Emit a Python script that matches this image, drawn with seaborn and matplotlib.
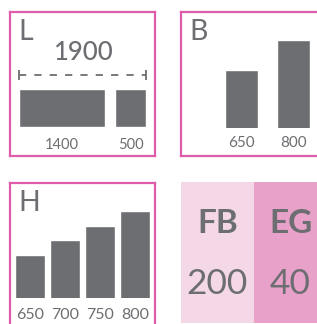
import numpy as np
import pandas as pd
import matplotlib.pyplot as plt
import seaborn as sns
from matplotlib.colors import ListedColormap

sns.set_theme(style="white")
plt.rcParams["font.family"] = ["Lato", "DejaVu Sans"]

W, H = 317, 324
GRAY = "#6d6e71"
PINK = "#de5ca9"
LIGHT = "#f5d8e8"
DARK = "#e8a1c8"

# --- data ---
l_values = [1400, 500]
l_total = 1900
l_gap = 160

b_labels = ["650", "800"]
b_values = [650, 800]

h_labels = ["650", "700", "750", "800"]
h_values = [650, 700, 750, 800]

table_heads = ["FB", "EG"]
table_values = [200, 40]


def ax_at(fig, x0, y0, x1, y1):
    # pixel box (top-left origin) -> figure axes
    return fig.add_axes([x0 / W, 1 - y1 / H, (x1 - x0) / W, (y1 - y0) / H])


def frame(fig, x0, y0, x1, y1, letter):
    ax = ax_at(fig, x0, y0, x1, y1)
    ax.set_xticks([])
    ax.set_yticks([])
    ax.patch.set_alpha(0)
    for s in ax.spines.values():
        s.set_color(PINK)
        s.set_linewidth(1.6)
        s.set_visible(True)
    ax.text(8.5 / (x1 - x0), 1 - 7 / (y1 - y0), letter, transform=ax.transAxes,
            fontsize=20.5, color=GRAY, ha="left", va="top")
    return ax


fig = plt.figure(figsize=(W / 100, H / 100), dpi=100)

# --- L panel ---
frame(fig, 10, 12, 155, 156, "L")
ax = ax_at(fig, 19, 89, 146, 127)
starts = [0, l_values[0] + l_gap]
ax.barh([0, 0], l_values, left=starts, height=1, color=GRAY)
ax.set_xlim(0, l_total + l_gap)
ax.set_ylim(-0.5, 0.5)
ax.axis("off")
tr = ax.get_xaxis_transform()
for s, v in zip(starts, l_values):
    ax.text(s + v / 2, -0.47, str(v), transform=tr, ha="center", va="center",
            fontsize=10.5, color=GRAY)
ax.plot([0, l_total + l_gap], [1.37, 1.37], transform=tr, color=GRAY,
        lw=1.3, ls=(0, (4, 4.5)), clip_on=False)
ax.plot([0, l_total + l_gap], [1.37, 1.37], transform=tr, color=GRAY,
        lw=0, marker="|", markersize=7, mew=1.3, clip_on=False)
ax.text((l_total + l_gap) / 2, 1.95, str(l_total), transform=tr, ha="center",
        va="center", fontsize=18.5, color=GRAY, fontweight="medium")

# --- B panel ---
frame(fig, 181, 12, 340, 156, "B")
ax = ax_at(fig, 216, 30, 319, 128)
sns.barplot(x=b_labels, y=b_values, color=GRAY, width=0.65, saturation=1, ax=ax)
ax.set_ylim(360, 850)
ax.set_xlim(-0.5, 1.5)
sns.despine(ax=ax, left=True, bottom=True)
ax.set_yticks([])
ax.patch.set_alpha(0)
ax.tick_params(axis="x", length=0, pad=6, labelsize=11, labelcolor=GRAY)

# --- H panel ---
frame(fig, 10, 183, 155, 345, "H")
ax = ax_at(fig, 12.5, 200, 152.5, 298)
sns.barplot(x=h_labels, y=h_values, color=GRAY, width=0.86, saturation=1, ax=ax)
ax.set_ylim(500, 838)
ax.set_xlim(-0.5, 3.5)
sns.despine(ax=ax, left=True, bottom=True)
ax.set_yticks([])
ax.patch.set_alpha(0)
ax.tick_params(axis="x", length=0, pad=7, labelsize=11.5, labelcolor=GRAY)

# --- table panel ---
ax = ax_at(fig, 181, 182, 327, 323)
grid = pd.DataFrame([[0, 1], [0, 1]], columns=table_heads)
annot = np.array([table_heads, [str(v) for v in table_values]])
sns.heatmap(grid, cmap=ListedColormap([LIGHT, DARK]), cbar=False, annot=annot,
            fmt="", ax=ax, xticklabels=False, yticklabels=False)
for t in ax.texts:
    t.set_color(GRAY)
    if t.get_text() in table_heads:
        t.set_fontsize(24)
        t.set_fontweight("bold")
        t.set_y(0.585)
    else:
        t.set_fontsize(25.5)
        t.set_y(1.44)

fig.savefig("out.png", dpi=100)
